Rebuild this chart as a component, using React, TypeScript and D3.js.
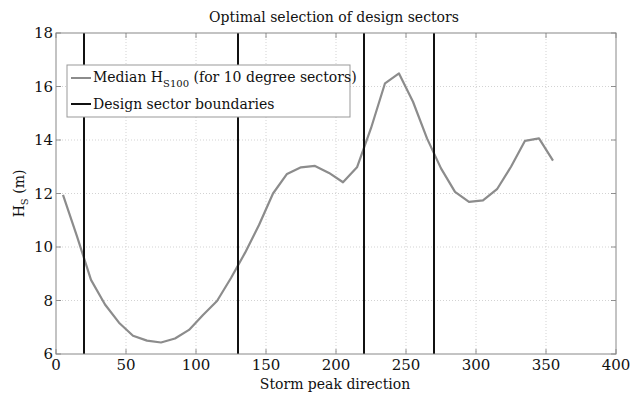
import React from "react";
import * as d3 from "d3";

// Storm peak direction (centre of each 10 degree sector) and median 100-year Hs
const directions = [5, 15, 25, 35, 45, 55, 65, 75, 85, 95, 105, 115, 125, 135, 145, 155, 165, 175, 185, 195, 205, 215, 225, 235, 245, 255, 265, 275, 285, 295, 305, 315, 325, 335, 345, 355];
const medianHs100 = [11.95, 10.4, 8.77, 7.85, 7.17, 6.68, 6.5, 6.43, 6.58, 6.9, 7.46, 7.98, 8.84, 9.78, 10.82, 12.0, 12.73, 12.98, 13.03, 12.77, 12.42, 12.98, 14.44, 16.12, 16.49, 15.43, 14.06, 12.94, 12.06, 11.69, 11.74, 12.16, 13.0, 13.97, 14.06, 13.23];
const sectorBoundaries = [20, 130, 220, 270];
const xTicks = [0, 50, 100, 150, 200, 250, 300, 350, 400];
const yTicks = [6, 8, 10, 12, 14, 16, 18];

const W = 630;
const H = 394;
const left = 56;
const right = 616;
const top = 33;
const bottom = 354;
const font = "'DejaVu Serif', 'Liberation Serif', serif";
const txt = { fontFamily: font };

export default function App() {
  const x = d3.scaleLinear().domain([0, 400]).range([left, right]);
  const y = d3.scaleLinear().domain([6, 18]).range([bottom, top]);
  const line = d3
    .line<number>()
    .x((_, i) => x(directions[i]))
    .y((d) => y(d));

  return (
    <svg width={W} height={H} style={{ position: "absolute", left: 0, top: 0, fontFamily: font }}>
      <rect width={W} height={H} fill="#fff" />
      {/* grid */}
      {xTicks.slice(1, -1).map((t) => (
        <line key={"gx" + t} x1={x(t)} x2={x(t)} y1={top} y2={bottom} stroke="#c8c8c8" strokeWidth={0.8} strokeDasharray="1,2" />
      ))}
      {yTicks.slice(1, -1).map((t) => (
        <line key={"gy" + t} x1={left} x2={right} y1={y(t)} y2={y(t)} stroke="#c8c8c8" strokeWidth={0.8} strokeDasharray="1,2" />
      ))}
      {/* inner ticks */}
      {xTicks.map((t) => (
        <g key={"tx" + t} stroke="#777" strokeWidth={0.8}>
          <line x1={x(t)} x2={x(t)} y1={bottom} y2={bottom - 5} />
          <line x1={x(t)} x2={x(t)} y1={top} y2={top + 5} />
        </g>
      ))}
      {yTicks.map((t) => (
        <g key={"ty" + t} stroke="#777" strokeWidth={0.8}>
          <line x1={left} x2={left + 5} y1={y(t)} y2={y(t)} />
          <line x1={right} x2={right - 5} y1={y(t)} y2={y(t)} />
        </g>
      ))}
      {/* data */}
      <path d={line(medianHs100) || ""} fill="none" stroke="#8c8c8c" strokeWidth={2.2} strokeLinejoin="round" />
      {sectorBoundaries.map((b) => (
        <line key={"b" + b} x1={x(b)} x2={x(b)} y1={top} y2={bottom} stroke="#111" strokeWidth={2} />
      ))}
      {/* axes box */}
      <rect x={left} y={top} width={right - left} height={bottom - top} fill="none" stroke="#888" strokeWidth={1} />
      {/* tick labels */}
      {xTicks.map((t) => (
        <text key={"lx" + t} x={x(t)} y={bottom + 16} textAnchor="middle" fontSize={15} fill="#111" style={txt}>
          {t}
        </text>
      ))}
      {yTicks.map((t) => (
        <text key={"ly" + t} x={left - 3} y={y(t) + 5} textAnchor="end" fontSize={15} fill="#111" style={txt}>
          {t}
        </text>
      ))}
      {/* labels */}
      <text x={(left + right) / 2 - 2} y={22} textAnchor="middle" fontSize={14} fill="#111" style={txt}>
        Optimal selection of design sectors
      </text>
      <text x={(left + right) / 2 - 1} y={389} textAnchor="middle" fontSize={14} fill="#111" style={txt}>
        Storm peak direction
      </text>
      <text transform={`translate(24, ${(top + bottom) / 2}) rotate(-90)`} textAnchor="middle" fontSize={14} fill="#111" style={txt}>
        H<tspan fontSize={10} dy={4}>S</tspan>
        <tspan dy={-4}> (m)</tspan>
      </text>
      {/* legend */}
      <g>
        <rect x={67} y={65} width={283} height={52} fill="#fff" stroke="#999" strokeWidth={1} />
        <line x1={71} x2={91} y1={78} y2={78} stroke="#8c8c8c" strokeWidth={2} />
        <text x={93} y={82} fontSize={14} fill="#111" style={txt}>
          Median H<tspan fontSize={10} dy={5}>S100</tspan>
          <tspan dy={-5}> (for 10 degree sectors)</tspan>
        </text>
        <line x1={71} x2={91} y1={104} y2={104} stroke="#111" strokeWidth={2} />
        <text x={93} y={109} fontSize={14} fill="#111" style={txt}>
          Design sector boundaries
        </text>
      </g>
    </svg>
  );
}
